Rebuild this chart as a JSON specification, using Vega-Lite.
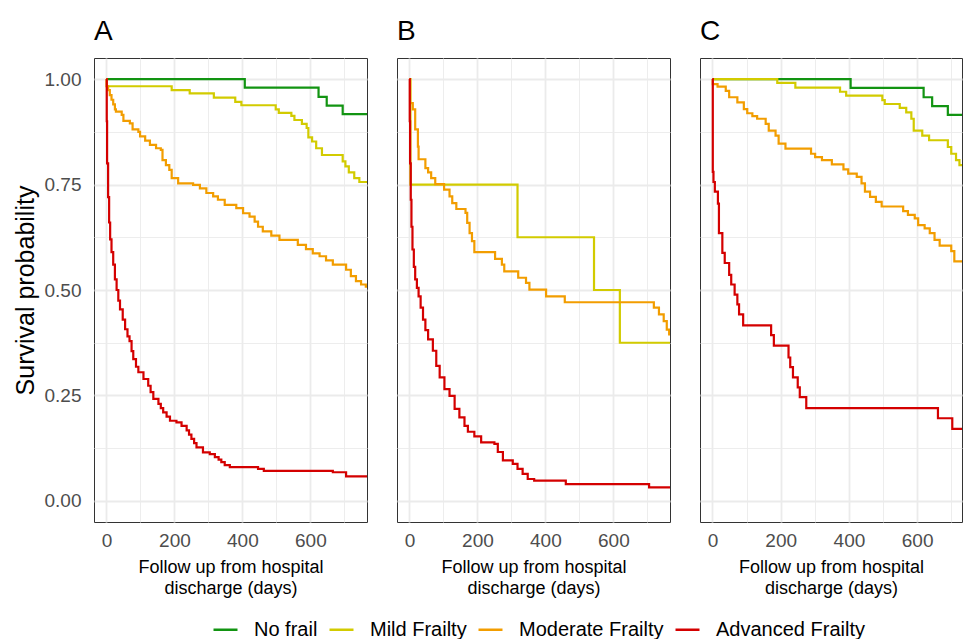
{
  "$schema": "https://vega.github.io/schema/vega-lite/v6.json",
  "padding": {"left": 12, "top": 17, "right": 0, "bottom": 0},
  "background": "white",
  "data": {
    "values": [
      {"p": "A", "g": "No frail", "t": 0, "s": 1},
      {"p": "A", "g": "No frail", "t": 407, "s": 0.980},
      {"p": "A", "g": "No frail", "t": 624, "s": 0.958},
      {"p": "A", "g": "No frail", "t": 648, "s": 0.937},
      {"p": "A", "g": "No frail", "t": 695, "s": 0.917},
      {"p": "A", "g": "No frail", "t": 780, "s": 0.917},
      {"p": "A", "g": "Mild Frailty", "t": 0, "s": 1},
      {"p": "A", "g": "Mild Frailty", "t": 1, "s": 0.983},
      {"p": "A", "g": "Mild Frailty", "t": 192, "s": 0.974},
      {"p": "A", "g": "Mild Frailty", "t": 245, "s": 0.966},
      {"p": "A", "g": "Mild Frailty", "t": 316, "s": 0.956},
      {"p": "A", "g": "Mild Frailty", "t": 379, "s": 0.946},
      {"p": "A", "g": "Mild Frailty", "t": 397, "s": 0.938},
      {"p": "A", "g": "Mild Frailty", "t": 498, "s": 0.928},
      {"p": "A", "g": "Mild Frailty", "t": 507, "s": 0.920},
      {"p": "A", "g": "Mild Frailty", "t": 544, "s": 0.913},
      {"p": "A", "g": "Mild Frailty", "t": 553, "s": 0.903},
      {"p": "A", "g": "Mild Frailty", "t": 575, "s": 0.894},
      {"p": "A", "g": "Mild Frailty", "t": 589, "s": 0.884},
      {"p": "A", "g": "Mild Frailty", "t": 594, "s": 0.862},
      {"p": "A", "g": "Mild Frailty", "t": 605, "s": 0.852},
      {"p": "A", "g": "Mild Frailty", "t": 617, "s": 0.836},
      {"p": "A", "g": "Mild Frailty", "t": 634, "s": 0.820},
      {"p": "A", "g": "Mild Frailty", "t": 695, "s": 0.805},
      {"p": "A", "g": "Mild Frailty", "t": 703, "s": 0.793},
      {"p": "A", "g": "Mild Frailty", "t": 713, "s": 0.779},
      {"p": "A", "g": "Mild Frailty", "t": 729, "s": 0.765},
      {"p": "A", "g": "Mild Frailty", "t": 744, "s": 0.756},
      {"p": "A", "g": "Mild Frailty", "t": 780, "s": 0.756},
      {"p": "A", "g": "Moderate Frailty", "t": 0, "s": 1},
      {"p": "A", "g": "Moderate Frailty", "t": 1, "s": 0.983},
      {"p": "A", "g": "Moderate Frailty", "t": 5, "s": 0.974},
      {"p": "A", "g": "Moderate Frailty", "t": 10, "s": 0.962},
      {"p": "A", "g": "Moderate Frailty", "t": 15, "s": 0.951},
      {"p": "A", "g": "Moderate Frailty", "t": 20, "s": 0.940},
      {"p": "A", "g": "Moderate Frailty", "t": 25, "s": 0.928},
      {"p": "A", "g": "Moderate Frailty", "t": 28, "s": 0.923},
      {"p": "A", "g": "Moderate Frailty", "t": 45, "s": 0.915},
      {"p": "A", "g": "Moderate Frailty", "t": 50, "s": 0.901},
      {"p": "A", "g": "Moderate Frailty", "t": 69, "s": 0.895},
      {"p": "A", "g": "Moderate Frailty", "t": 77, "s": 0.881},
      {"p": "A", "g": "Moderate Frailty", "t": 94, "s": 0.875},
      {"p": "A", "g": "Moderate Frailty", "t": 99, "s": 0.864},
      {"p": "A", "g": "Moderate Frailty", "t": 114, "s": 0.854},
      {"p": "A", "g": "Moderate Frailty", "t": 128, "s": 0.844},
      {"p": "A", "g": "Moderate Frailty", "t": 146, "s": 0.836},
      {"p": "A", "g": "Moderate Frailty", "t": 160, "s": 0.832},
      {"p": "A", "g": "Moderate Frailty", "t": 165, "s": 0.808},
      {"p": "A", "g": "Moderate Frailty", "t": 175, "s": 0.796},
      {"p": "A", "g": "Moderate Frailty", "t": 185, "s": 0.785},
      {"p": "A", "g": "Moderate Frailty", "t": 192, "s": 0.765},
      {"p": "A", "g": "Moderate Frailty", "t": 211, "s": 0.753},
      {"p": "A", "g": "Moderate Frailty", "t": 255, "s": 0.749},
      {"p": "A", "g": "Moderate Frailty", "t": 275, "s": 0.741},
      {"p": "A", "g": "Moderate Frailty", "t": 294, "s": 0.730},
      {"p": "A", "g": "Moderate Frailty", "t": 314, "s": 0.722},
      {"p": "A", "g": "Moderate Frailty", "t": 328, "s": 0.714},
      {"p": "A", "g": "Moderate Frailty", "t": 348, "s": 0.702},
      {"p": "A", "g": "Moderate Frailty", "t": 382, "s": 0.694},
      {"p": "A", "g": "Moderate Frailty", "t": 402, "s": 0.682},
      {"p": "A", "g": "Moderate Frailty", "t": 421, "s": 0.674},
      {"p": "A", "g": "Moderate Frailty", "t": 436, "s": 0.662},
      {"p": "A", "g": "Moderate Frailty", "t": 446, "s": 0.650},
      {"p": "A", "g": "Moderate Frailty", "t": 460, "s": 0.639},
      {"p": "A", "g": "Moderate Frailty", "t": 485, "s": 0.629},
      {"p": "A", "g": "Moderate Frailty", "t": 509, "s": 0.619},
      {"p": "A", "g": "Moderate Frailty", "t": 563, "s": 0.607},
      {"p": "A", "g": "Moderate Frailty", "t": 587, "s": 0.597},
      {"p": "A", "g": "Moderate Frailty", "t": 607, "s": 0.587},
      {"p": "A", "g": "Moderate Frailty", "t": 627, "s": 0.580},
      {"p": "A", "g": "Moderate Frailty", "t": 646, "s": 0.570},
      {"p": "A", "g": "Moderate Frailty", "t": 666, "s": 0.560},
      {"p": "A", "g": "Moderate Frailty", "t": 705, "s": 0.548},
      {"p": "A", "g": "Moderate Frailty", "t": 719, "s": 0.533},
      {"p": "A", "g": "Moderate Frailty", "t": 734, "s": 0.521},
      {"p": "A", "g": "Moderate Frailty", "t": 749, "s": 0.513},
      {"p": "A", "g": "Moderate Frailty", "t": 763, "s": 0.508},
      {"p": "A", "g": "Moderate Frailty", "t": 780, "s": 0.508},
      {"p": "A", "g": "Advanced Frailty", "t": 0, "s": 1},
      {"p": "A", "g": "Advanced Frailty", "t": 1, "s": 0.90},
      {"p": "A", "g": "Advanced Frailty", "t": 2, "s": 0.80},
      {"p": "A", "g": "Advanced Frailty", "t": 5, "s": 0.72},
      {"p": "A", "g": "Advanced Frailty", "t": 8, "s": 0.66},
      {"p": "A", "g": "Advanced Frailty", "t": 11, "s": 0.62},
      {"p": "A", "g": "Advanced Frailty", "t": 15, "s": 0.59},
      {"p": "A", "g": "Advanced Frailty", "t": 20, "s": 0.56},
      {"p": "A", "g": "Advanced Frailty", "t": 25, "s": 0.525},
      {"p": "A", "g": "Advanced Frailty", "t": 30, "s": 0.50},
      {"p": "A", "g": "Advanced Frailty", "t": 35, "s": 0.475},
      {"p": "A", "g": "Advanced Frailty", "t": 40, "s": 0.454},
      {"p": "A", "g": "Advanced Frailty", "t": 48, "s": 0.430},
      {"p": "A", "g": "Advanced Frailty", "t": 55, "s": 0.407},
      {"p": "A", "g": "Advanced Frailty", "t": 62, "s": 0.390},
      {"p": "A", "g": "Advanced Frailty", "t": 68, "s": 0.379},
      {"p": "A", "g": "Advanced Frailty", "t": 74, "s": 0.355},
      {"p": "A", "g": "Advanced Frailty", "t": 79, "s": 0.336},
      {"p": "A", "g": "Advanced Frailty", "t": 87, "s": 0.318},
      {"p": "A", "g": "Advanced Frailty", "t": 94, "s": 0.305},
      {"p": "A", "g": "Advanced Frailty", "t": 109, "s": 0.289},
      {"p": "A", "g": "Advanced Frailty", "t": 123, "s": 0.273},
      {"p": "A", "g": "Advanced Frailty", "t": 130, "s": 0.258},
      {"p": "A", "g": "Advanced Frailty", "t": 138, "s": 0.242},
      {"p": "A", "g": "Advanced Frailty", "t": 153, "s": 0.230},
      {"p": "A", "g": "Advanced Frailty", "t": 160, "s": 0.220},
      {"p": "A", "g": "Advanced Frailty", "t": 167, "s": 0.210},
      {"p": "A", "g": "Advanced Frailty", "t": 177, "s": 0.200},
      {"p": "A", "g": "Advanced Frailty", "t": 187, "s": 0.190},
      {"p": "A", "g": "Advanced Frailty", "t": 206, "s": 0.186},
      {"p": "A", "g": "Advanced Frailty", "t": 221, "s": 0.178},
      {"p": "A", "g": "Advanced Frailty", "t": 236, "s": 0.167},
      {"p": "A", "g": "Advanced Frailty", "t": 243, "s": 0.157},
      {"p": "A", "g": "Advanced Frailty", "t": 250, "s": 0.147},
      {"p": "A", "g": "Advanced Frailty", "t": 258, "s": 0.137},
      {"p": "A", "g": "Advanced Frailty", "t": 265, "s": 0.127},
      {"p": "A", "g": "Advanced Frailty", "t": 284, "s": 0.115},
      {"p": "A", "g": "Advanced Frailty", "t": 304, "s": 0.111},
      {"p": "A", "g": "Advanced Frailty", "t": 319, "s": 0.104},
      {"p": "A", "g": "Advanced Frailty", "t": 330, "s": 0.098},
      {"p": "A", "g": "Advanced Frailty", "t": 338, "s": 0.092},
      {"p": "A", "g": "Advanced Frailty", "t": 348, "s": 0.085},
      {"p": "A", "g": "Advanced Frailty", "t": 363, "s": 0.080},
      {"p": "A", "g": "Advanced Frailty", "t": 446, "s": 0.076},
      {"p": "A", "g": "Advanced Frailty", "t": 463, "s": 0.071},
      {"p": "A", "g": "Advanced Frailty", "t": 666, "s": 0.068},
      {"p": "A", "g": "Advanced Frailty", "t": 705, "s": 0.058},
      {"p": "A", "g": "Advanced Frailty", "t": 780, "s": 0.058},
      {"p": "B", "g": "Mild Frailty", "t": 0, "s": 1},
      {"p": "B", "g": "Mild Frailty", "t": 3, "s": 0.75},
      {"p": "B", "g": "Mild Frailty", "t": 318, "s": 0.625},
      {"p": "B", "g": "Mild Frailty", "t": 543, "s": 0.5},
      {"p": "B", "g": "Mild Frailty", "t": 619, "s": 0.375},
      {"p": "B", "g": "Mild Frailty", "t": 780, "s": 0.375},
      {"p": "B", "g": "Moderate Frailty", "t": 0, "s": 1},
      {"p": "B", "g": "Moderate Frailty", "t": 2, "s": 0.943},
      {"p": "B", "g": "Moderate Frailty", "t": 10, "s": 0.928},
      {"p": "B", "g": "Moderate Frailty", "t": 17, "s": 0.881},
      {"p": "B", "g": "Moderate Frailty", "t": 25, "s": 0.840},
      {"p": "B", "g": "Moderate Frailty", "t": 27, "s": 0.810},
      {"p": "B", "g": "Moderate Frailty", "t": 47, "s": 0.789},
      {"p": "B", "g": "Moderate Frailty", "t": 55, "s": 0.779},
      {"p": "B", "g": "Moderate Frailty", "t": 64, "s": 0.765},
      {"p": "B", "g": "Moderate Frailty", "t": 76, "s": 0.751},
      {"p": "B", "g": "Moderate Frailty", "t": 102, "s": 0.738},
      {"p": "B", "g": "Moderate Frailty", "t": 118, "s": 0.722},
      {"p": "B", "g": "Moderate Frailty", "t": 126, "s": 0.706},
      {"p": "B", "g": "Moderate Frailty", "t": 138, "s": 0.692},
      {"p": "B", "g": "Moderate Frailty", "t": 165, "s": 0.683},
      {"p": "B", "g": "Moderate Frailty", "t": 170, "s": 0.659},
      {"p": "B", "g": "Moderate Frailty", "t": 177, "s": 0.635},
      {"p": "B", "g": "Moderate Frailty", "t": 184, "s": 0.616},
      {"p": "B", "g": "Moderate Frailty", "t": 191, "s": 0.590},
      {"p": "B", "g": "Moderate Frailty", "t": 252, "s": 0.574},
      {"p": "B", "g": "Moderate Frailty", "t": 272, "s": 0.560},
      {"p": "B", "g": "Moderate Frailty", "t": 279, "s": 0.544},
      {"p": "B", "g": "Moderate Frailty", "t": 320, "s": 0.529},
      {"p": "B", "g": "Moderate Frailty", "t": 343, "s": 0.517},
      {"p": "B", "g": "Moderate Frailty", "t": 353, "s": 0.501},
      {"p": "B", "g": "Moderate Frailty", "t": 402, "s": 0.485},
      {"p": "B", "g": "Moderate Frailty", "t": 457, "s": 0.471},
      {"p": "B", "g": "Moderate Frailty", "t": 719, "s": 0.458},
      {"p": "B", "g": "Moderate Frailty", "t": 734, "s": 0.442},
      {"p": "B", "g": "Moderate Frailty", "t": 748, "s": 0.426},
      {"p": "B", "g": "Moderate Frailty", "t": 757, "s": 0.406},
      {"p": "B", "g": "Moderate Frailty", "t": 764, "s": 0.395},
      {"p": "B", "g": "Moderate Frailty", "t": 780, "s": 0.395},
      {"p": "B", "g": "Advanced Frailty", "t": 0, "s": 1},
      {"p": "B", "g": "Advanced Frailty", "t": 1, "s": 0.90},
      {"p": "B", "g": "Advanced Frailty", "t": 2, "s": 0.80},
      {"p": "B", "g": "Advanced Frailty", "t": 4, "s": 0.714},
      {"p": "B", "g": "Advanced Frailty", "t": 6, "s": 0.65},
      {"p": "B", "g": "Advanced Frailty", "t": 9, "s": 0.596},
      {"p": "B", "g": "Advanced Frailty", "t": 13, "s": 0.555},
      {"p": "B", "g": "Advanced Frailty", "t": 17, "s": 0.525},
      {"p": "B", "g": "Advanced Frailty", "t": 22, "s": 0.505},
      {"p": "B", "g": "Advanced Frailty", "t": 27, "s": 0.485},
      {"p": "B", "g": "Advanced Frailty", "t": 33, "s": 0.458},
      {"p": "B", "g": "Advanced Frailty", "t": 40, "s": 0.430},
      {"p": "B", "g": "Advanced Frailty", "t": 47, "s": 0.405},
      {"p": "B", "g": "Advanced Frailty", "t": 55, "s": 0.383},
      {"p": "B", "g": "Advanced Frailty", "t": 69, "s": 0.356},
      {"p": "B", "g": "Advanced Frailty", "t": 79, "s": 0.320},
      {"p": "B", "g": "Advanced Frailty", "t": 89, "s": 0.293},
      {"p": "B", "g": "Advanced Frailty", "t": 103, "s": 0.265},
      {"p": "B", "g": "Advanced Frailty", "t": 118, "s": 0.249},
      {"p": "B", "g": "Advanced Frailty", "t": 133, "s": 0.218},
      {"p": "B", "g": "Advanced Frailty", "t": 147, "s": 0.198},
      {"p": "B", "g": "Advanced Frailty", "t": 162, "s": 0.178},
      {"p": "B", "g": "Advanced Frailty", "t": 172, "s": 0.164},
      {"p": "B", "g": "Advanced Frailty", "t": 191, "s": 0.153},
      {"p": "B", "g": "Advanced Frailty", "t": 211, "s": 0.139},
      {"p": "B", "g": "Advanced Frailty", "t": 250, "s": 0.135},
      {"p": "B", "g": "Advanced Frailty", "t": 260, "s": 0.116},
      {"p": "B", "g": "Advanced Frailty", "t": 275, "s": 0.096},
      {"p": "B", "g": "Advanced Frailty", "t": 304, "s": 0.088},
      {"p": "B", "g": "Advanced Frailty", "t": 318, "s": 0.076},
      {"p": "B", "g": "Advanced Frailty", "t": 333, "s": 0.064},
      {"p": "B", "g": "Advanced Frailty", "t": 348, "s": 0.052},
      {"p": "B", "g": "Advanced Frailty", "t": 367, "s": 0.048},
      {"p": "B", "g": "Advanced Frailty", "t": 460, "s": 0.040},
      {"p": "B", "g": "Advanced Frailty", "t": 705, "s": 0.032},
      {"p": "B", "g": "Advanced Frailty", "t": 780, "s": 0.032},
      {"p": "C", "g": "No frail", "t": 0, "s": 1},
      {"p": "C", "g": "No frail", "t": 405, "s": 0.979},
      {"p": "C", "g": "No frail", "t": 619, "s": 0.957},
      {"p": "C", "g": "No frail", "t": 644, "s": 0.936},
      {"p": "C", "g": "No frail", "t": 690, "s": 0.915},
      {"p": "C", "g": "No frail", "t": 780, "s": 0.915},
      {"p": "C", "g": "Mild Frailty", "t": 0, "s": 1},
      {"p": "C", "g": "Mild Frailty", "t": 190, "s": 0.991},
      {"p": "C", "g": "Mild Frailty", "t": 243, "s": 0.980},
      {"p": "C", "g": "Mild Frailty", "t": 374, "s": 0.970},
      {"p": "C", "g": "Mild Frailty", "t": 392, "s": 0.961},
      {"p": "C", "g": "Mild Frailty", "t": 498, "s": 0.950},
      {"p": "C", "g": "Mild Frailty", "t": 505, "s": 0.941},
      {"p": "C", "g": "Mild Frailty", "t": 549, "s": 0.932},
      {"p": "C", "g": "Mild Frailty", "t": 568, "s": 0.921},
      {"p": "C", "g": "Mild Frailty", "t": 583, "s": 0.906},
      {"p": "C", "g": "Mild Frailty", "t": 590, "s": 0.878},
      {"p": "C", "g": "Mild Frailty", "t": 615, "s": 0.866},
      {"p": "C", "g": "Mild Frailty", "t": 635, "s": 0.855},
      {"p": "C", "g": "Mild Frailty", "t": 690, "s": 0.839},
      {"p": "C", "g": "Mild Frailty", "t": 700, "s": 0.823},
      {"p": "C", "g": "Mild Frailty", "t": 714, "s": 0.808},
      {"p": "C", "g": "Mild Frailty", "t": 724, "s": 0.796},
      {"p": "C", "g": "Mild Frailty", "t": 780, "s": 0.796},
      {"p": "C", "g": "Moderate Frailty", "t": 0, "s": 1},
      {"p": "C", "g": "Moderate Frailty", "t": 1, "s": 0.988},
      {"p": "C", "g": "Moderate Frailty", "t": 15, "s": 0.982},
      {"p": "C", "g": "Moderate Frailty", "t": 39, "s": 0.972},
      {"p": "C", "g": "Moderate Frailty", "t": 49, "s": 0.957},
      {"p": "C", "g": "Moderate Frailty", "t": 73, "s": 0.945},
      {"p": "C", "g": "Moderate Frailty", "t": 92, "s": 0.929},
      {"p": "C", "g": "Moderate Frailty", "t": 102, "s": 0.919},
      {"p": "C", "g": "Moderate Frailty", "t": 117, "s": 0.912},
      {"p": "C", "g": "Moderate Frailty", "t": 131, "s": 0.906},
      {"p": "C", "g": "Moderate Frailty", "t": 156, "s": 0.894},
      {"p": "C", "g": "Moderate Frailty", "t": 165, "s": 0.878},
      {"p": "C", "g": "Moderate Frailty", "t": 185, "s": 0.866},
      {"p": "C", "g": "Moderate Frailty", "t": 194, "s": 0.847},
      {"p": "C", "g": "Moderate Frailty", "t": 214, "s": 0.835},
      {"p": "C", "g": "Moderate Frailty", "t": 289, "s": 0.823},
      {"p": "C", "g": "Moderate Frailty", "t": 301, "s": 0.815},
      {"p": "C", "g": "Moderate Frailty", "t": 321, "s": 0.808},
      {"p": "C", "g": "Moderate Frailty", "t": 350, "s": 0.798},
      {"p": "C", "g": "Moderate Frailty", "t": 384, "s": 0.786},
      {"p": "C", "g": "Moderate Frailty", "t": 398, "s": 0.776},
      {"p": "C", "g": "Moderate Frailty", "t": 423, "s": 0.768},
      {"p": "C", "g": "Moderate Frailty", "t": 437, "s": 0.753},
      {"p": "C", "g": "Moderate Frailty", "t": 447, "s": 0.733},
      {"p": "C", "g": "Moderate Frailty", "t": 462, "s": 0.721},
      {"p": "C", "g": "Moderate Frailty", "t": 479, "s": 0.709},
      {"p": "C", "g": "Moderate Frailty", "t": 496, "s": 0.698},
      {"p": "C", "g": "Moderate Frailty", "t": 559, "s": 0.687},
      {"p": "C", "g": "Moderate Frailty", "t": 573, "s": 0.678},
      {"p": "C", "g": "Moderate Frailty", "t": 593, "s": 0.670},
      {"p": "C", "g": "Moderate Frailty", "t": 603, "s": 0.654},
      {"p": "C", "g": "Moderate Frailty", "t": 622, "s": 0.646},
      {"p": "C", "g": "Moderate Frailty", "t": 637, "s": 0.635},
      {"p": "C", "g": "Moderate Frailty", "t": 651, "s": 0.619},
      {"p": "C", "g": "Moderate Frailty", "t": 666, "s": 0.605},
      {"p": "C", "g": "Moderate Frailty", "t": 700, "s": 0.592},
      {"p": "C", "g": "Moderate Frailty", "t": 709, "s": 0.568},
      {"p": "C", "g": "Moderate Frailty", "t": 780, "s": 0.568},
      {"p": "C", "g": "Advanced Frailty", "t": 0, "s": 1},
      {"p": "C", "g": "Advanced Frailty", "t": 1, "s": 0.78},
      {"p": "C", "g": "Advanced Frailty", "t": 3, "s": 0.756},
      {"p": "C", "g": "Advanced Frailty", "t": 7, "s": 0.733},
      {"p": "C", "g": "Advanced Frailty", "t": 16, "s": 0.705},
      {"p": "C", "g": "Advanced Frailty", "t": 19, "s": 0.635},
      {"p": "C", "g": "Advanced Frailty", "t": 29, "s": 0.588},
      {"p": "C", "g": "Advanced Frailty", "t": 36, "s": 0.564},
      {"p": "C", "g": "Advanced Frailty", "t": 49, "s": 0.536},
      {"p": "C", "g": "Advanced Frailty", "t": 55, "s": 0.513},
      {"p": "C", "g": "Advanced Frailty", "t": 65, "s": 0.489},
      {"p": "C", "g": "Advanced Frailty", "t": 73, "s": 0.466},
      {"p": "C", "g": "Advanced Frailty", "t": 78, "s": 0.442},
      {"p": "C", "g": "Advanced Frailty", "t": 90, "s": 0.416},
      {"p": "C", "g": "Advanced Frailty", "t": 172, "s": 0.393},
      {"p": "C", "g": "Advanced Frailty", "t": 180, "s": 0.368},
      {"p": "C", "g": "Advanced Frailty", "t": 223, "s": 0.340},
      {"p": "C", "g": "Advanced Frailty", "t": 228, "s": 0.317},
      {"p": "C", "g": "Advanced Frailty", "t": 236, "s": 0.293},
      {"p": "C", "g": "Advanced Frailty", "t": 250, "s": 0.269},
      {"p": "C", "g": "Advanced Frailty", "t": 256, "s": 0.246},
      {"p": "C", "g": "Advanced Frailty", "t": 275, "s": 0.220},
      {"p": "C", "g": "Advanced Frailty", "t": 661, "s": 0.196},
      {"p": "C", "g": "Advanced Frailty", "t": 703, "s": 0.171},
      {"p": "C", "g": "Advanced Frailty", "t": 780, "s": 0.171}
    ]
  },
  "spacing": 28,
  "resolve": {"scale": {"x": "independent", "y": "independent", "color": "shared"}},
  "hconcat": [
    {
      "width": 273,
      "height": 464,
      "title": {"text": "A"},
      "transform": [{"filter": "datum.p === 'A'"}],
      "mark": {"type": "line", "interpolate": "step-after", "strokeWidth": 2.2, "clip": true},
      "encoding": {
        "x": {
          "field": "t", "type": "quantitative",
          "scale": {"domain": [-36.5, 766.5], "nice": false, "zero": false},
          "axis": {"title": ["Follow up from hospital", "discharge (days)"], "values": [0, 100, 200, 300, 400, 500, 600, 700]}
        },
        "y": {
          "field": "s", "type": "quantitative",
          "scale": {"domain": [-0.05, 1.05], "nice": false, "zero": false},
          "axis": {"title": "Survival probability", "values": [0, 0.125, 0.25, 0.375, 0.5, 0.625, 0.75, 0.875, 1]}
        },
        "color": {
          "field": "g", "type": "nominal",
          "scale": {
            "domain": ["No frail", "Mild Frailty", "Moderate Frailty", "Advanced Frailty"],
            "range": ["#129412", "#D2CB00", "#F29D00", "#D40000"]
          },
          "legend": {
            "orient": "none", "legendX": 118, "legendY": 558,
            "direction": "horizontal", "title": null
          }
        }
      }
    },
    {
      "width": 273,
      "height": 464,
      "title": {"text": "B"},
      "transform": [{"filter": "datum.p === 'B'"}],
      "mark": {"type": "line", "interpolate": "step-after", "strokeWidth": 2.2, "clip": true},
      "encoding": {
        "x": {
          "field": "t", "type": "quantitative",
          "scale": {"domain": [-36.5, 766.5], "nice": false, "zero": false},
          "axis": {"title": ["Follow up from hospital", "discharge (days)"], "values": [0, 100, 200, 300, 400, 500, 600, 700]}
        },
        "y": {
          "field": "s", "type": "quantitative",
          "scale": {"domain": [-0.05, 1.05], "nice": false, "zero": false},
          "axis": {"title": null, "labels": false, "ticks": false, "values": [0, 0.125, 0.25, 0.375, 0.5, 0.625, 0.75, 0.875, 1]}
        },
        "color": {"field": "g", "type": "nominal"}
      }
    },
    {
      "width": 262,
      "height": 464,
      "title": {"text": "C"},
      "transform": [{"filter": "datum.p === 'C'"}],
      "mark": {"type": "line", "interpolate": "step-after", "strokeWidth": 2.2, "clip": true},
      "encoding": {
        "x": {
          "field": "t", "type": "quantitative",
          "scale": {"domain": [-36.5, 731.5], "nice": false, "zero": false},
          "axis": {"title": ["Follow up from hospital", "discharge (days)"], "values": [0, 100, 200, 300, 400, 500, 600, 700]}
        },
        "y": {
          "field": "s", "type": "quantitative",
          "scale": {"domain": [-0.05, 1.05], "nice": false, "zero": false},
          "axis": {"title": null, "labels": false, "ticks": false, "values": [0, 0.125, 0.25, 0.375, 0.5, 0.625, 0.75, 0.875, 1]}
        },
        "color": {"field": "g", "type": "nominal"}
      }
    }
  ],
  "config": {
    "font": "Liberation Sans",
    "view": {"stroke": "#333333", "strokeWidth": 1},
    "title": {
      "fontSize": 28, "fontWeight": "normal", "anchor": "start", "frame": "group",
      "offset": 12, "color": "black", "font": "Liberation Sans"
    },
    "axis": {
      "domain": false,
      "gridColor": "#EBEBEB",
      "tickColor": "#333333",
      "tickWidth": 1.5,
      "tickSize": 6,
      "labelFont": "Liberation Sans",
      "labelFontSize": 19,
      "labelColor": "#4D4D4D",
      "labelOverlap": false,
      "labelFlush": false,
      "titleFont": "Liberation Sans",
      "titleFontWeight": "normal",
      "titleColor": "black"
    },
    "axisX": {
      "format": "d",
      "labelExpr": "indexof([0, 200, 400, 600], datum.value) >= 0 ? datum.label : ''",
      "tickOpacity": {"condition": {"test": "indexof([0, 200, 400, 600], datum.value) >= 0", "value": 1}, "value": 0},
      "gridWidth": {"condition": {"test": "indexof([0, 200, 400, 600], datum.value) >= 0", "value": 1.8}, "value": 0.9},
      "labelPadding": 3,
      "titleFontSize": 18,
      "titlePadding": 8,
      "titleLineHeight": 21
    },
    "axisY": {
      "format": ".2f",
      "labelExpr": "indexof([0, 0.25, 0.5, 0.75, 1], datum.value) >= 0 ? datum.label : ''",
      "tickOpacity": {"condition": {"test": "indexof([0, 0.25, 0.5, 0.75, 1], datum.value) >= 0", "value": 1}, "value": 0},
      "gridWidth": {"condition": {"test": "indexof([0, 0.25, 0.5, 0.75, 1], datum.value) >= 0", "value": 1.8}, "value": 0.9},
      "labelPadding": 7,
      "titleFontSize": 25,
      "titlePadding": 6
    },
    "legend": {
      "symbolType": "stroke",
      "symbolSize": 576,
      "symbolStrokeWidth": 2.5,
      "labelFont": "Liberation Sans",
      "labelFontSize": 20,
      "labelColor": "black",
      "labelOffset": 15,
      "columnPadding": 6
    }
  }
}
